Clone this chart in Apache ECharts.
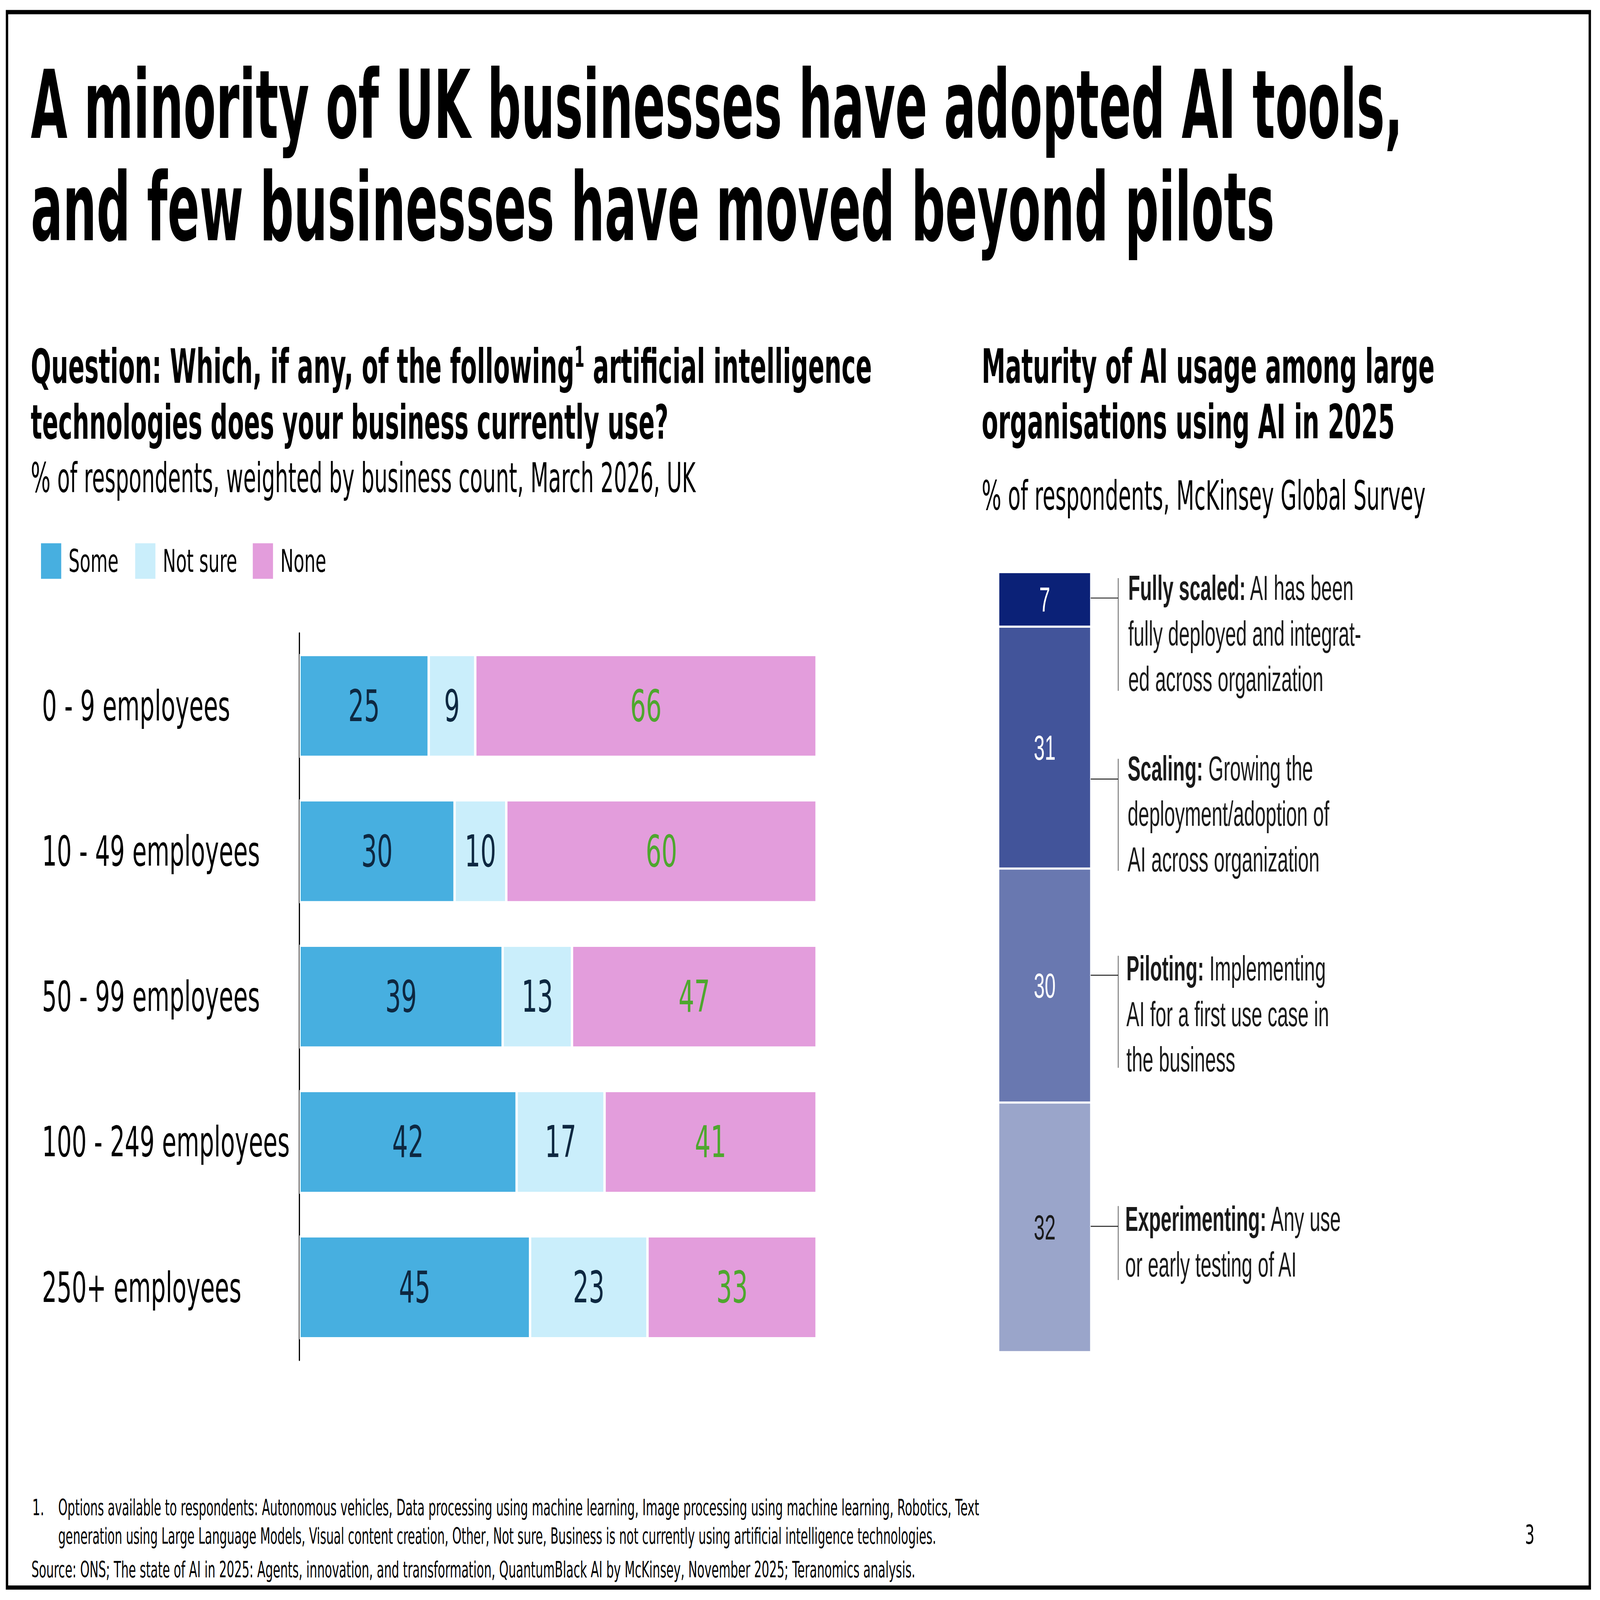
<!DOCTYPE html>
<html>
<head>
<meta charset="utf-8">
<script src="https://cdn.jsdelivr.net/npm/echarts@6/dist/echarts.min.js"></script>
<style>
html,body{margin:0;padding:0;background:#ffffff;overflow:hidden;}
#c{width:8000px;height:4500px;transform-origin:0 0;}
</style>
</head>
<body>
<div id="c"></div>
<script>
// ---------------- data ----------------
const sizeBands = ['0 - 9 employees', '10 - 49 employees', '50 - 99 employees', '100 - 249 employees', '250+ employees'];
const adoptionSeries = ['Some', 'Not sure', 'None'];
const someValues = [25, 30, 39.3, 42, 44.6];
const notSureValues = [9, 10, 13.4, 17, 22.7];
const noneValues = [66, 60, 47.3, 41, 32.7];

const maturityCategory = ['2025'];
const maturityStages = ['Experimenting', 'Piloting', 'Scaling', 'Fully scaled'];
const maturityValues = [32, 30, 31, 7];

const maturityNotesBold = ['Experimenting:', 'Piloting:', 'Scaling:', 'Fully scaled:'];
const maturityNotesText = [
  ' Any use\nor early testing of AI',
  ' Implementing\nAI for a first use case in\nthe business',
  ' Growing the\ndeployment/adoption of\nAI across organization',
  ' AI has been\nfully deployed and integrat-\ned across organization'
];

const titleLines = ['A minority of UK businesses have adopted AI tools,', 'and few businesses have moved beyond pilots'];
const leftHeading = ['Question: Which, if any, of the following', '1', ' artificial intelligence', 'technologies does your business currently use?'];
const leftSub = '% of respondents, weighted by business count, March 2026, UK';
const rightHeading = ['Maturity of AI usage among large', 'organisations using AI in 2025'];
const rightSub = '% of respondents, McKinsey Global Survey';
const footnoteLines = [
  'Options available to respondents: Autonomous vehicles, Data processing using machine learning, Image processing using machine learning, Robotics, Text',
  'generation using Large Language Models, Visual content creation, Other, Not sure, Business is not currently using artificial intelligence technologies.'
];
const sourceLine = 'Source: ONS; The state of AI in 2025: Agents, innovation, and transformation, QuantumBlack AI by McKinsey, November 2025; Teranomics analysis.';
const pageNumber = '3';

// ---------------- styles ----------------
const FONT = "'DejaVu Sans'";
const NOTE_FONT = "'Liberation Sans'";
const adoptionColors = ['#47AFE0', '#CAEEFB', '#E39DDC'];
const adoptionLabelColors = ['#0E2841', '#0E2841', '#4EA72E'];
const maturityColors = ['#9AA5CA', '#6978B0', '#42549A', '#0B2177'];
const maturityLabelColors = ['#1a1a1a', '#ffffff', '#ffffff', '#ffffff'];

// fit the 8000x4500 design into the actual window
const box = document.getElementById('c');
box.style.transform = 'scale(' + (window.innerWidth / 8000) + ',' + (window.innerHeight / 4500) + ')';

const mctx = document.createElement('canvas').getContext('2d');
function measure(text, fs, weight, family) {
  mctx.font = weight + ' ' + fs + 'px ' + family;
  return mctx.measureText(text).width;
}
function txt(text, x, baseline, fs, o) {
  o = Object.assign({ weight: 'normal', family: FONT, fill: '#000000', width: null }, o || {});
  let sx = 1;
  if (o.width) sx = o.width / measure(text, fs, o.weight, o.family);
  return {
    type: 'text', x: x, y: baseline - 0.35 * fs, scaleX: sx, silent: true,
    style: { text: text, fill: o.fill, fontSize: fs, fontWeight: o.weight, fontFamily: o.family, align: 'left', verticalAlign: 'middle' }
  };
}

const graphics = [];
// frame
graphics.push({ type: 'rect', silent: true, shape: { x: 35, y: 34, width: 7914, height: 4431 }, style: { fill: 'none', stroke: '#000', lineWidth: 12 } });
// title
graphics.push(txt(titleLines[0], 154, 389, 267, { weight: 'bold', width: 6861 }));
graphics.push(txt(titleLines[1], 154, 677, 267, { weight: 'bold', width: 6220 }));
// left heading with superscript
(function () {
  const fs = 133, supFs = 80;
  const w = measure(leftHeading[0] + leftHeading[2], fs, 'bold', FONT) + measure(leftHeading[1], supFs, 'bold', FONT);
  graphics.push({
    type: 'text', x: 154, y: 1077 - 0.35 * fs, scaleX: 4205 / w, silent: true,
    style: {
      text: leftHeading[0] + '{sup|' + leftHeading[1] + '}' + leftHeading[2],
      fill: '#000', fontSize: fs, fontWeight: 'bold', fontFamily: FONT, lineHeight: fs,
      align: 'left', verticalAlign: 'middle',
      rich: { sup: { fontSize: supFs, fontWeight: 'bold', fontFamily: FONT, fill: '#000', verticalAlign: 'top', lineHeight: supFs } }
    }
  });
})();
graphics.push(txt(leftHeading[3], 154, 1234, 133, { weight: 'bold', width: 3190 }));
graphics.push(txt(leftSub, 154, 1385, 115, { width: 3323 }));
// right heading
graphics.push(txt(rightHeading[0], 4908, 1077, 133, { weight: 'bold', width: 2266 }));
graphics.push(txt(rightHeading[1], 4908, 1234, 133, { weight: 'bold', width: 2066 }));
graphics.push(txt(rightSub, 4908, 1434, 113, { width: 2220 }));

// maturity annotations (index aligned with maturityStages)
const noteFirstBaseline = [3462, 2758, 2195, 1688];
const noteTextX = [5626, 5632, 5638, 5641];
const noteHookY = [3449, 2743, 2191, 1682];
const noteBracket = [[3392, 3600], [2688, 3003], [2134, 2449], [1626, 1943]];
const NOTE_FS = 97, NOTE_LH = 128;
for (let i = 0; i < maturityStages.length; i++) {
  graphics.push({
    type: 'text', x: noteTextX[i], y: noteFirstBaseline[i] - NOTE_LH / 2 - 0.35 * NOTE_FS, silent: true,
    style: {
      text: '{b|' + maturityNotesBold[i] + '}' + maturityNotesText[i],
      fill: '#1a1a1a', fontSize: NOTE_FS, fontFamily: NOTE_FONT, lineHeight: NOTE_LH,
      align: 'left', verticalAlign: 'top',
      rich: { b: { fontWeight: 'bold', fontSize: NOTE_FS, fontFamily: NOTE_FONT, fill: '#1a1a1a', lineHeight: NOTE_LH } }
    }
  });
  graphics.push({ type: 'line', silent: true, shape: { x1: 5452, y1: noteHookY[i], x2: 5591, y2: noteHookY[i] }, style: { stroke: '#333', lineWidth: 3 } });
  graphics.push({ type: 'line', silent: true, shape: { x1: 5591, y1: noteBracket[i][0], x2: 5591, y2: noteBracket[i][1] }, style: { stroke: '#333', lineWidth: 3 } });
}

// footnotes
graphics.push(txt('1.', 161, 4262, 63));
graphics.push(txt(footnoteLines[0], 291, 4262, 63, { width: 4606 }));
graphics.push(txt(footnoteLines[1], 291, 4342, 63, { width: 4391 }));
graphics.push(txt(sourceLine, 157, 4436, 63, { width: 4423 }));
graphics.push(txt(pageNumber, 7625, 4342, 75));

// ---------------- chart ----------------
const chart = echarts.init(box, null, { renderer: 'svg', width: 8000, height: 4500 });

const adoptionData = [someValues, notSureValues, noneValues];
const series = adoptionSeries.map(function (name, i) {
  return {
    name: name, type: 'bar', stack: 'adoption', xAxisIndex: 0, yAxisIndex: 0,
    data: adoptionData[i], barWidth: 292,
    itemStyle: { color: adoptionColors[i], borderColor: '#ffffff', borderWidth: 6 },
    label: {
      show: true, position: 'inside', fontSize: 124, fontFamily: FONT, color: adoptionLabelColors[i],
      formatter: function (p) { return Math.round(p.value); }
    },
    emphasis: { disabled: true }, animation: false
  };
});
maturityStages.forEach(function (name, i) {
  series.push({
    name: name, type: 'bar', stack: 'maturity', xAxisIndex: 1, yAxisIndex: 1,
    data: [maturityValues[i]], barWidth: 460,
    itemStyle: { color: maturityColors[i], borderColor: '#ffffff', borderWidth: 3 },
    label: { show: true, position: 'inside', fontSize: 98, fontFamily: NOTE_FONT, color: maturityLabelColors[i] },
    emphasis: { disabled: true }, animation: false
  });
});

function legendFor(name, left) {
  return {
    data: [name], left: left, top: 1521, icon: 'rect', itemWidth: 103, itemHeight: 102,
    selectedMode: false,
    textStyle: { fontSize: 88, fontFamily: FONT, color: '#000', padding: [0, 0, 0, 31] }
  };
}

chart.setOption({
  backgroundColor: '#ffffff',
  animation: false,
  textStyle: { fontFamily: FONT },
  legend: [legendFor('Some', 198), legendFor('Not sure', 669), legendFor('None', 1257)],
  grid: [
    { left: 1497, top: 1781, width: 2586, height: 2044, containLabel: false },
    { left: 4995, top: 1609, width: 457, height: 2194, containLabel: false }
  ],
  xAxis: [
    { type: 'value', gridIndex: 0, min: 0, max: 100, show: false },
    { type: 'category', gridIndex: 1, data: maturityCategory, show: false }
  ],
  yAxis: [
    {
      type: 'category', gridIndex: 0, data: sizeBands, inverse: true, offset: 3,
      axisLine: { show: true, lineStyle: { color: '#000', width: 6 } },
      axisTick: { show: false }, splitLine: { show: false },
      axisLabel: { align: 'left', margin: 1284, fontSize: 117, fontFamily: FONT, color: '#000' }
    },
    { type: 'value', gridIndex: 1, min: 0, max: 100, show: false }
  ],
  series: series,
  graphic: graphics
});
</script>
</body>
</html>
